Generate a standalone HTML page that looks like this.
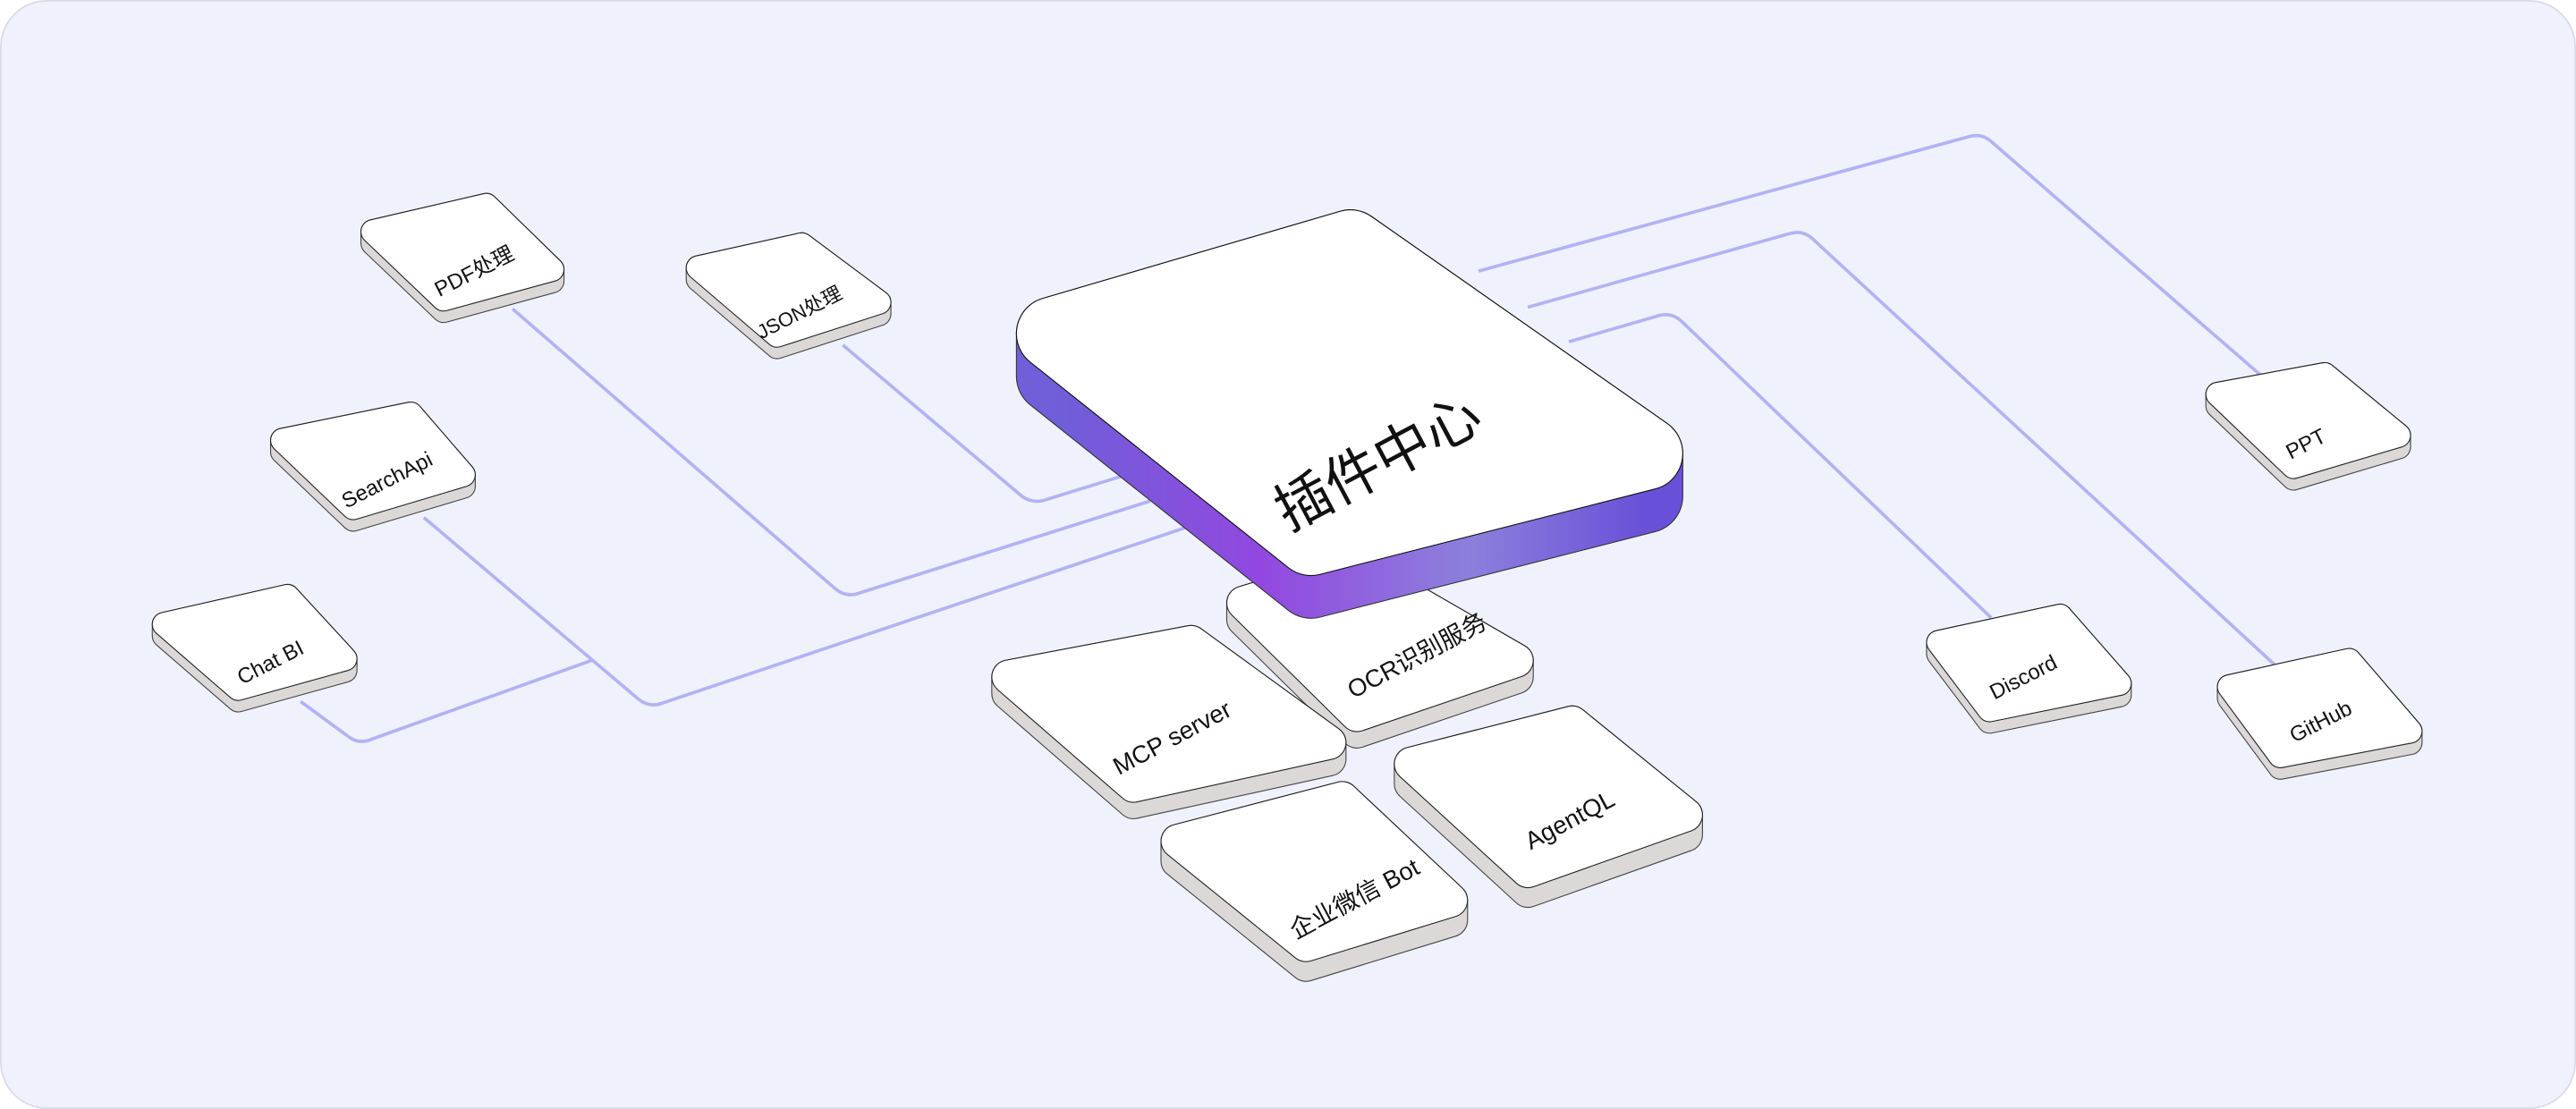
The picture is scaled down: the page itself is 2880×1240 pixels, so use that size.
<!DOCTYPE html>
<html><head><meta charset="utf-8"><style>
html,body{margin:0;padding:0;background:#fff;}
svg{display:block;}
text{font-family:"Liberation Sans","Noto Sans CJK SC",sans-serif;fill:#111;}
</style></head><body>
<svg width="2880" height="1240" viewBox="0 0 1568 675" preserveAspectRatio="none" xmlns="http://www.w3.org/2000/svg">
<defs>
<linearGradient id="pg" x1="0" y1="0" x2="1" y2="0">
<stop offset="0" stop-color="#6f5fd8"/><stop offset="0.35" stop-color="#9248e0"/><stop offset="0.7" stop-color="#8c80dc"/><stop offset="1" stop-color="#6a50d8"/>
</linearGradient>
</defs>
<rect x="0.5" y="0.5" width="1567" height="674" rx="28" fill="#eff2fc" stroke="#d9dce6"/>
<g fill="none" stroke="#b2b2f6" stroke-width="2" stroke-linejoin="round">
<path d="M312 188 L508 358 Q515 364 523 361 L700 305"/>
<path d="M513 210 L622 302 Q629 307 637 304 L705 283"/>
<path d="M258 315 L388 425 Q395 431 403 428 L725 320"/>
<path d="M183 427 L213 449 Q219 453 226 450 L360 402"/>
<path d="M900 165 L1199 83 Q1207 81 1213 87 L1378 230"/>
<path d="M930 187 L1090 142 Q1098 140 1104 146 L1385 405"/>
<path d="M955 208 L1010 192 Q1018 190 1024 196 L1212 376"/>
</g>

<g stroke-linejoin="round">
<g>
<polygon points="227,141 296,125 336,164 336,171 270,189 227,148" fill="#dcd8d8" stroke="#444" stroke-width="15.2"/>
<polygon points="227,141 296,125 336,164 336,171 270,189 227,148" fill="#dcd8d8" stroke="#dcd8d8" stroke-width="14"/>
<polygon points="227,141 296,125 336,164 270,182" fill="#fff" stroke="#222" stroke-width="15.2"/>
<polygon points="227,141 296,125 336,164 270,182" fill="#fff" stroke="#fff" stroke-width="14"/>
</g>
<g>
<polygon points="425,163 488,149 535,184 535,191 473,211 425,170" fill="#dcd8d8" stroke="#444" stroke-width="15.2"/>
<polygon points="425,163 488,149 535,184 535,191 473,211 425,170" fill="#dcd8d8" stroke="#dcd8d8" stroke-width="14"/>
<polygon points="425,163 488,149 535,184 473,204" fill="#fff" stroke="#222" stroke-width="15.2"/>
<polygon points="425,163 488,149 535,184 473,204" fill="#fff" stroke="#fff" stroke-width="14"/>
</g>
<g>
<polygon points="172,268 250,252 282,289 282,296 215,316 172,275" fill="#dcd8d8" stroke="#444" stroke-width="15.2"/>
<polygon points="172,268 250,252 282,289 282,296 215,316 172,275" fill="#dcd8d8" stroke="#dcd8d8" stroke-width="14"/>
<polygon points="172,268 250,252 282,289 215,309" fill="#fff" stroke="#222" stroke-width="15.2"/>
<polygon points="172,268 250,252 282,289 215,309" fill="#fff" stroke="#fff" stroke-width="14"/>
</g>
<g>
<polygon points="100,380 175,363 210,401 210,408 145,426 100,387" fill="#dcd8d8" stroke="#444" stroke-width="15.2"/>
<polygon points="100,380 175,363 210,401 210,408 145,426 100,387" fill="#dcd8d8" stroke="#dcd8d8" stroke-width="14"/>
<polygon points="100,380 175,363 210,401 145,419" fill="#fff" stroke="#222" stroke-width="15.2"/>
<polygon points="100,380 175,363 210,401 145,419" fill="#fff" stroke="#fff" stroke-width="14"/>
</g>
<g>
<polygon points="1350,240 1415,228 1460,265 1460,272 1396,291 1350,247" fill="#dcd8d8" stroke="#444" stroke-width="15.2"/>
<polygon points="1350,240 1415,228 1460,265 1460,272 1396,291 1350,247" fill="#dcd8d8" stroke="#dcd8d8" stroke-width="14"/>
<polygon points="1350,240 1415,228 1460,265 1396,284" fill="#fff" stroke="#222" stroke-width="15.2"/>
<polygon points="1350,240 1415,228 1460,265 1396,284" fill="#fff" stroke="#fff" stroke-width="14"/>
</g>
<g>
<polygon points="1180,391 1254,375 1290,416 1290,423 1211,439 1180,398" fill="#dcd8d8" stroke="#444" stroke-width="15.2"/>
<polygon points="1180,391 1254,375 1290,416 1290,423 1211,439 1180,398" fill="#dcd8d8" stroke="#dcd8d8" stroke-width="14"/>
<polygon points="1180,391 1254,375 1290,416 1211,432" fill="#fff" stroke="#222" stroke-width="15.2"/>
<polygon points="1180,391 1254,375 1290,416 1211,432" fill="#fff" stroke="#fff" stroke-width="14"/>
</g>
<g>
<polygon points="1357,418 1430,402 1467,445 1467,452 1388,467 1357,425" fill="#dcd8d8" stroke="#444" stroke-width="15.2"/>
<polygon points="1357,418 1430,402 1467,445 1467,452 1388,467 1357,425" fill="#dcd8d8" stroke="#dcd8d8" stroke-width="14"/>
<polygon points="1357,418 1430,402 1467,445 1388,460" fill="#fff" stroke="#222" stroke-width="15.2"/>
<polygon points="1357,418 1430,402 1467,445 1388,460" fill="#fff" stroke="#fff" stroke-width="14"/>
</g>
<g>
<polygon points="757,367 826,346 923,402 923,412 826,445 757,377" fill="#dcd8d8" stroke="#444" stroke-width="21.2"/>
<polygon points="757,367 826,346 923,402 923,412 826,445 757,377" fill="#dcd8d8" stroke="#dcd8d8" stroke-width="20"/>
<polygon points="757,367 826,346 923,402 826,435" fill="#fff" stroke="#222" stroke-width="21.2"/>
<polygon points="757,367 826,346 923,402 826,435" fill="#fff" stroke="#fff" stroke-width="20"/>
</g>
<g>
<polygon points="641,203 822,150 1002,276 1002,302 798,354 641,229" fill="url(#pg)" stroke="#333" stroke-width="45.2"/>
<polygon points="641,203 822,150 1002,276 1002,302 798,354 641,229" fill="url(#pg)" stroke="url(#pg)" stroke-width="44"/>
<polygon points="641,203 822,150 1002,276 798,328" fill="#fff" stroke="#111" stroke-width="45.2"/>
<polygon points="641,203 822,150 1002,276 798,328" fill="#fff" stroke="#fff" stroke-width="44"/>
</g>
<g>
<polygon points="614,412 725,391 809,452 809,462 690,488 614,422" fill="#dcd8d8" stroke="#444" stroke-width="21.2"/>
<polygon points="614,412 725,391 809,452 809,462 690,488 614,422" fill="#dcd8d8" stroke="#dcd8d8" stroke-width="20"/>
<polygon points="614,412 725,391 809,452 690,478" fill="#fff" stroke="#222" stroke-width="21.2"/>
<polygon points="614,412 725,391 809,452 690,478" fill="#fff" stroke="#fff" stroke-width="20"/>
</g>
<g>
<polygon points="859,465 957,440 1026,496 1026,508 930,542 859,477" fill="#dcd8d8" stroke="#444" stroke-width="21.2"/>
<polygon points="859,465 957,440 1026,496 1026,508 930,542 859,477" fill="#dcd8d8" stroke="#dcd8d8" stroke-width="20"/>
<polygon points="859,465 957,440 1026,496 930,530" fill="#fff" stroke="#222" stroke-width="21.2"/>
<polygon points="859,465 957,440 1026,496 930,530" fill="#fff" stroke="#fff" stroke-width="20"/>
</g>
<g>
<polygon points="717,512 817,486 883,548 883,560 795,587 717,524" fill="#dcd8d8" stroke="#444" stroke-width="21.2"/>
<polygon points="717,512 817,486 883,548 883,560 795,587 717,524" fill="#dcd8d8" stroke="#dcd8d8" stroke-width="20"/>
<polygon points="717,512 817,486 883,548 795,575" fill="#fff" stroke="#222" stroke-width="21.2"/>
<polygon points="717,512 817,486 883,548 795,575" fill="#fff" stroke="#fff" stroke-width="20"/>
</g>
</g>

<g font-size="13">
<text transform="translate(289,166) rotate(-27)" text-anchor="middle" dominant-baseline="middle">PDF处理</text>
<text transform="translate(487,191) rotate(-27)" text-anchor="middle" dominant-baseline="middle" font-size="12">JSON处理</text>
<text transform="translate(236,293) rotate(-27)" text-anchor="middle" dominant-baseline="middle">SearchApi</text>
<text transform="translate(165,404) rotate(-27)" text-anchor="middle" dominant-baseline="middle">Chat BI</text>
<text transform="translate(1404,271) rotate(-27)" text-anchor="middle" dominant-baseline="middle">PPT</text>
<text transform="translate(1232,413) rotate(-27)" text-anchor="middle" dominant-baseline="middle">Discord</text>
<text transform="translate(1413,440) rotate(-27)" text-anchor="middle" dominant-baseline="middle">GitHub</text>
<text transform="translate(863,400) rotate(-28)" text-anchor="middle" dominant-baseline="middle" font-size="15">OCR识别服务</text>
<text transform="translate(714,450) rotate(-28)" text-anchor="middle" dominant-baseline="middle" font-size="15">MCP server</text>
<text transform="translate(956,500) rotate(-28)" text-anchor="middle" dominant-baseline="middle" font-size="15">AgentQL</text>
<text transform="translate(825,548) rotate(-28)" text-anchor="middle" dominant-baseline="middle" font-size="15">企业微信 Bot</text>
<text transform="translate(840,284) rotate(-28)" text-anchor="middle" dominant-baseline="middle" font-size="34">插件中心</text>
</g>
</svg>
</body></html>
